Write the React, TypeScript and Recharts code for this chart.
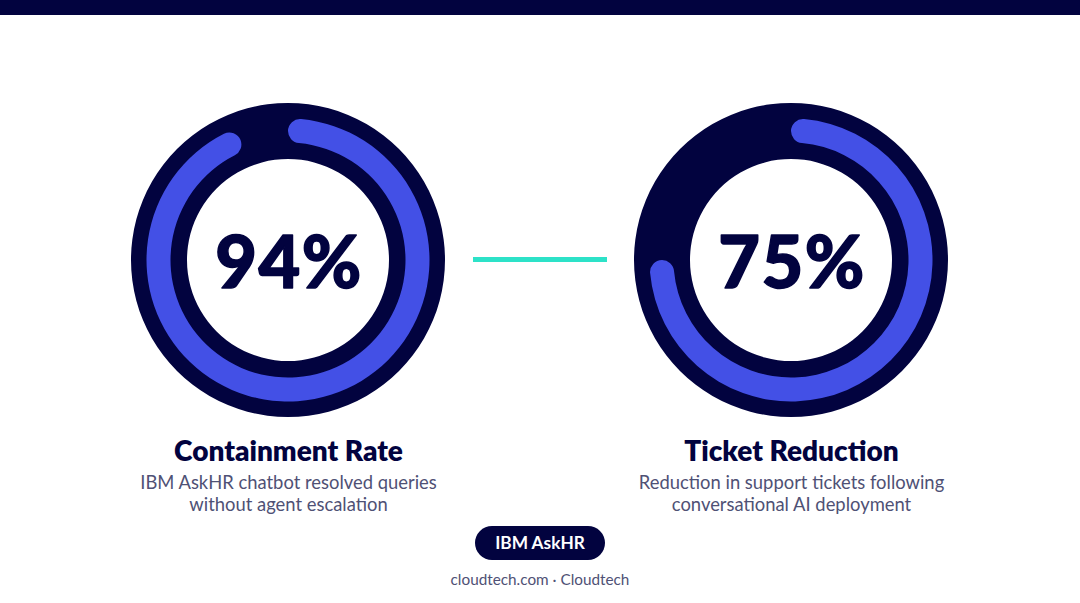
import { Label, Pie, PieChart, Cell } from "recharts";

const titles = ["Containment Rate", "Ticket Reduction"];
const percents = [94, 75];
const firstLines = [
  "IBM AskHR chatbot resolved queries",
  "Reduction in support tickets following",
];
const secondLines = [
  "without agent escalation",
  "conversational AI deployment",
];
const sourceTag = "IBM AskHR";
const footer = "cloudtech.com · Cloudtech";

const NAVY = "#02033f";
const BLUE = "#4350e6";
const TEAL = "#2de2c8";
const GREY = "#4f5175";
const FONT = "Lato, 'Noto Sans', sans-serif";

const CHART_SIZE = 320;
const CENTERS = [288, 791];

function Gauge({ index }: { index: number }) {
  const value = percents[index];
  const data = [
    { name: "done", value },
    { name: "rest", value: 100 - value },
  ];
  return (
    <div
      style={{
        position: "absolute",
        left: CENTERS[index] - CHART_SIZE / 2,
        top: 100,
        width: CHART_SIZE,
        height: CHART_SIZE,
      }}
    >
      <PieChart width={CHART_SIZE} height={CHART_SIZE} margin={{ top: 0, right: 0, bottom: 0, left: 0 }}>
        <Pie
          data={[{ name: "track", value: 100 }]}
          dataKey="value"
          cx={CHART_SIZE / 2}
          cy={CHART_SIZE / 2}
          innerRadius={101}
          outerRadius={157}
          startAngle={90}
          endAngle={-270}
          stroke="none"
          fill={NAVY}
          isAnimationActive={false}
        />
        <Pie
          data={data}
          dataKey="value"
          cx={CHART_SIZE / 2}
          cy={CHART_SIZE / 2}
          innerRadius={117.5}
          outerRadius={141.5}
          startAngle={90}
          endAngle={-270}
          cornerRadius={12}
          paddingAngle={0}
          stroke="none"
          isAnimationActive={false}
        >
          <Cell fill={BLUE} />
          <Cell fill="none" />
          <Label
            value={`${value}%`}
            position="center"
            fill={NAVY}
            dx={1}
            dy={2}
            style={{
              fontFamily: FONT,
              fontSize: 72,
              fontWeight: 900,
              letterSpacing: 1.5,
              stroke: NAVY,
              strokeWidth: 1.5,
              strokeLinejoin: "round",
            }}
          />
        </Pie>
      </PieChart>
    </div>
  );
}

function Caption({ index }: { index: number }) {
  const base = {
    position: "absolute" as const,
    left: CENTERS[index] + 0.5 - 200,
    width: 400,
    textAlign: "center" as const,
    fontFamily: FONT,
    whiteSpace: "nowrap" as const,
  };
  return (
    <>
      <div style={{ ...base, top: 433, height: 34, lineHeight: "34px", fontSize: 28, fontWeight: 800, color: NAVY }}>
        {titles[index]}
      </div>
      <div style={{ ...base, top: 471, height: 22, lineHeight: "22px", fontSize: 18.4, color: GREY }}>
        {firstLines[index]}
      </div>
      <div style={{ ...base, top: 493, height: 22, lineHeight: "22px", fontSize: 18.4, color: GREY }}>
        {secondLines[index]}
      </div>
    </>
  );
}

export default function App() {
  return (
    <div
      style={{
        position: "absolute",
        left: 0,
        top: 0,
        width: 1080,
        height: 603,
        background: "#ffffff",
        overflow: "hidden",
      }}
    >
      <div style={{ position: "absolute", left: 0, top: 0, width: 1080, height: 15, background: NAVY }} />

      <Gauge index={0} />
      <Gauge index={1} />

      <div style={{ position: "absolute", left: 473, top: 257, width: 134, height: 5, background: TEAL }} />

      <Caption index={0} />
      <Caption index={1} />

      <div
        style={{
          position: "absolute",
          left: 475,
          top: 526,
          width: 130,
          height: 34,
          borderRadius: 17,
          background: NAVY,
          color: "#ffffff",
          textAlign: "center",
          lineHeight: "34px",
          fontFamily: FONT,
          fontSize: 17.3,
          fontWeight: 700,
        }}
      >
        {sourceTag}
      </div>

      <div
        style={{
          position: "absolute",
          left: 340,
          top: 569,
          width: 400,
          height: 20,
          lineHeight: "20px",
          textAlign: "center",
          fontFamily: FONT,
          fontSize: 15.3,
          color: GREY,
        }}
      >
        {footer}
      </div>
    </div>
  );
}
